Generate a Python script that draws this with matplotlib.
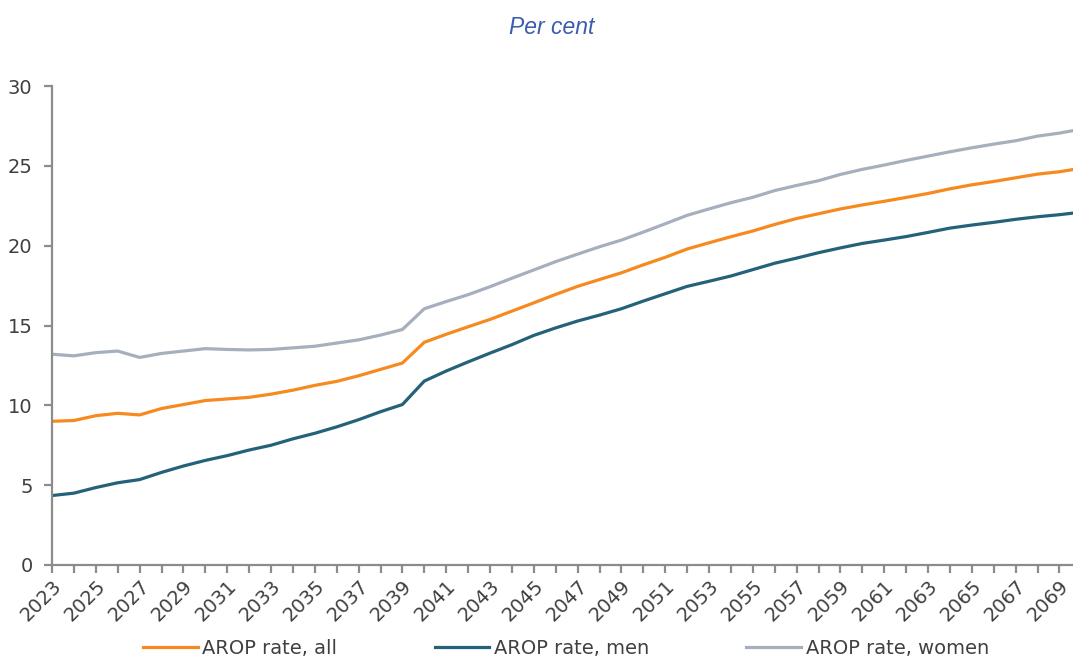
import numpy as np
import matplotlib
matplotlib.use('Agg')
import matplotlib.pyplot as plt

# =============================================================================
# Data
# =============================================================================

years = list(range(2023, 2071))

arop_all = [9.0, 9.05, 9.35, 9.5, 9.4, 9.8, 10.05, 10.3, 10.4, 10.5,
            10.7, 10.95, 11.25, 11.5, 11.85, 12.25, 12.65, 13.95, 14.45, 14.92,
            15.38, 15.9, 16.42, 16.95, 17.45, 17.88, 18.3, 18.8, 19.27, 19.79,
            20.18, 20.56, 20.92, 21.33, 21.7, 22.0, 22.3, 22.55, 22.78, 23.02,
            23.27, 23.56, 23.81, 24.02, 24.25, 24.48, 24.63, 24.85]

arop_men = [4.35, 4.5, 4.85, 5.15, 5.35, 5.8, 6.2, 6.55, 6.85, 7.2,
            7.5, 7.9, 8.25, 8.65, 9.1, 9.6, 10.05, 11.52, 12.15, 12.72,
            13.27, 13.8, 14.38, 14.85, 15.28, 15.65, 16.05, 16.53, 16.99, 17.45,
            17.77, 18.1, 18.5, 18.9, 19.22, 19.56, 19.86, 20.14, 20.35, 20.57,
            20.83, 21.1, 21.29, 21.46, 21.65, 21.81, 21.94, 22.1]

arop_women = [13.2, 13.1, 13.3, 13.4, 13.0, 13.25, 13.4, 13.55, 13.5, 13.47,
              13.5, 13.6, 13.7, 13.9, 14.1, 14.4, 14.75, 16.05, 16.5, 16.93,
              17.43, 17.96, 18.48, 19.0, 19.47, 19.93, 20.35, 20.85, 21.37, 21.9,
              22.3, 22.69, 23.03, 23.45, 23.77, 24.07, 24.46, 24.78, 25.05, 25.34,
              25.61, 25.88, 26.13, 26.36, 26.57, 26.86, 27.05, 27.3]

series_labels = ['AROP rate, all', 'AROP rate, men', 'AROP rate, women']
y_ticks = [0, 5, 10, 15, 20, 25, 30]

# =============================================================================
# Plot
# =============================================================================

text_color = '#404040'
axis_color = '#8C8C8C'
colors = ['#F68A1F', '#24627A', '#A6B0BD']

plt.rcParams['font.family'] = ['DejaVu Sans']

fig = plt.figure(figsize=(10.73, 6.58), dpi=100)
ax = fig.add_axes([52 / 1073, 93 / 658, 1 - 52 / 1073, (565 - 86) / 658])

for vals, col, lab in zip([arop_all, arop_men, arop_women], colors, series_labels):
    ax.plot(years, vals, color=col, linewidth=2.3, label=lab, solid_joinstyle='round')

ax.set_xlim(2023, 2069.62)
ax.set_ylim(0, 30)
ax.set_yticks(y_ticks)
ax.set_yticklabels([str(v) for v in y_ticks])

ax.set_xticks(years[:-1])
ax.set_xticklabels([str(y) if (y - 2023) % 2 == 0 else '' for y in years[:-1]],
                   rotation=45, ha='right', va='top', rotation_mode='anchor')

for side in ['top', 'right']:
    ax.spines[side].set_visible(False)
for side in ['left', 'bottom']:
    ax.spines[side].set_color(axis_color)
    ax.spines[side].set_linewidth(1.6)

ax.tick_params(axis='both', colors=axis_color, labelcolor=text_color,
               labelsize=14, width=1.6, length=6, direction='out')
ax.tick_params(axis='y', pad=8)
ax.tick_params(axis='x', pad=2)

fig.text(552 / 1073, 1 - 27 / 658, 'Per cent', ha='center', va='center',
         fontsize=16.5, style='italic', color='#3A5DAE',
         family=['Liberation Sans', 'DejaVu Sans'])

fig.legend(loc='center', bbox_to_anchor=(566 / 1073, 10 / 658), ncol=3,
           frameon=False, fontsize=14, handlelength=2.8, handletextpad=0.25,
           columnspacing=5.0, labelcolor=text_color, borderpad=0)

fig.savefig('out.png', dpi=100)
